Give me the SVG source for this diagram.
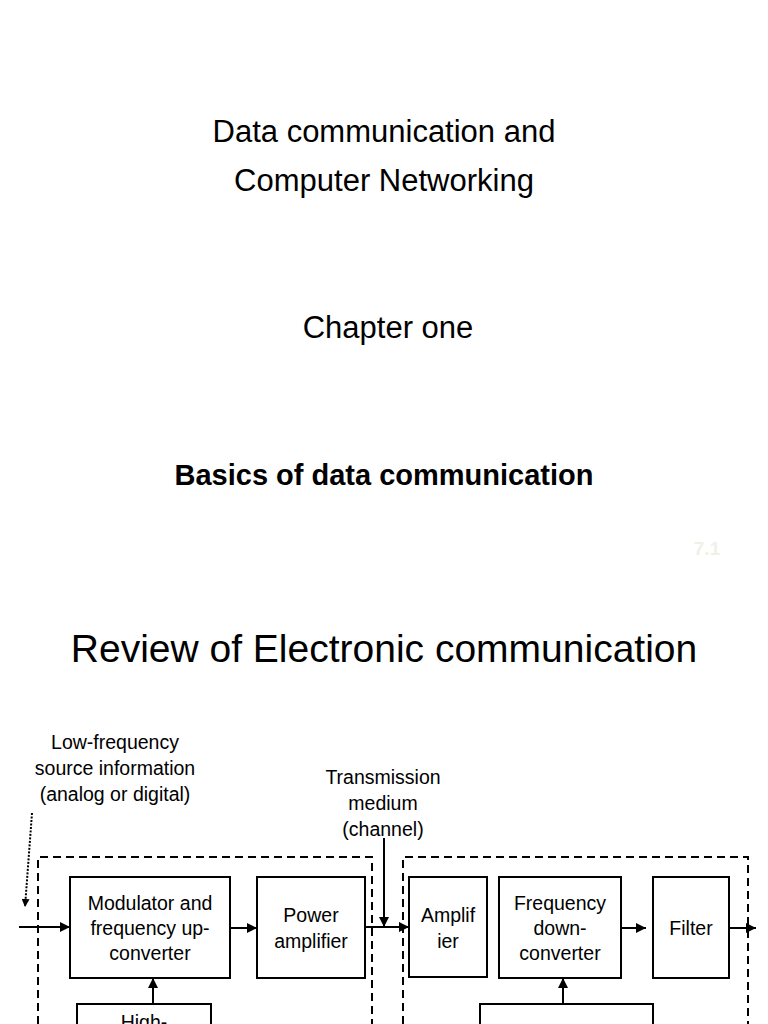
<svg xmlns="http://www.w3.org/2000/svg" width="768" height="1024" viewBox="0 0 768 1024">
<style>
text{font-family:"Liberation Sans",Arial,sans-serif;fill:#000;text-anchor:middle}
.t{font-size:31px}
.d{font-size:19.5px}
.box{fill:#fff;stroke:#000;stroke-width:2}
.dash{fill:none;stroke:#000;stroke-width:2;stroke-dasharray:8 5}
.ln{fill:none;stroke:#000;stroke-width:2}
</style>
<defs>
<marker id="ah" viewBox="0 0 10 10" refX="10" refY="5" markerWidth="5" markerHeight="5" orient="auto" markerUnits="strokeWidth"><path d="M0,0 L10,5 L0,10 z" fill="#000"/></marker>
<marker id="ahs" viewBox="0 0 10 10" refX="10" refY="5" markerWidth="4" markerHeight="4" orient="auto" markerUnits="strokeWidth"><path d="M0,0 L10,5 L0,10 z" fill="#000"/></marker>
</defs>
<rect width="768" height="1024" fill="#fff"/>
<g id="titles">
<text class="t" x="384" y="142">Data communication and</text>
<text class="t" x="384" y="191">Computer Networking</text>
<text class="t" x="388" y="338">Chapter one</text>
<text x="384" y="485" style="font-size:29px;font-weight:bold">Basics of data communication</text>
<text x="707" y="555" style="font-size:19px;font-weight:bold;fill:#f0f0e6">7.1</text>
<text x="384" y="662" style="font-size:39px">Review of Electronic communication</text>
</g>
<g id="labels">
<text class="d" x="115" y="749">Low-frequency</text>
<text class="d" x="115" y="775">source information</text>
<text class="d" x="115" y="801">(analog or digital)</text>
<text class="d" x="383" y="784">Transmission</text>
<text class="d" x="383" y="810">medium</text>
<text class="d" x="383" y="836">(channel)</text>
</g>
<g id="transmitter-frame"><path class="dash" d="M38,1024 V857 H372 V1024"/></g>
<g id="receiver-frame"><path class="dash" d="M403,1024 V857 H748 V1024"/></g>
<g id="modulator">
<rect class="box" x="70" y="877" width="160" height="101"/>
<text class="d" x="150" y="910">Modulator and</text>
<text class="d" x="150" y="935">frequency up-</text>
<text class="d" x="150" y="960">converter</text>
</g>
<g id="power-amplifier">
<rect class="box" x="257" y="877" width="108" height="101"/>
<text class="d" x="311" y="922">Power</text>
<text class="d" x="311" y="948">amplifier</text>
</g>
<g id="oscillator-tx">
<rect class="box" x="77" y="1004" width="134" height="40"/>
<text class="d" x="144" y="1029">High-</text>
</g>
<g id="amplifier">
<rect class="box" x="409" y="877" width="78" height="100"/>
<text class="d" x="448" y="922">Amplif</text>
<text class="d" x="448" y="948">ier</text>
</g>
<g id="downconverter">
<rect class="box" x="499" y="877" width="122" height="101"/>
<text class="d" x="560" y="910">Frequency</text>
<text class="d" x="560" y="935">down-</text>
<text class="d" x="560" y="960">converter</text>
</g>
<g id="filter">
<rect class="box" x="653" y="877" width="76" height="101"/>
<text class="d" x="691" y="935">Filter</text>
</g>
<g id="oscillator-rx">
<rect class="box" x="480" y="1004" width="173" height="40"/>
</g>
<g id="connectors">
<path d="M32,813 L25,907" fill="none" stroke="#000" stroke-width="2" stroke-dasharray="2 1.5" marker-end="url(#ahs)"/>
<line class="ln" x1="19" y1="927" x2="70" y2="927" marker-end="url(#ah)"/>
<line class="ln" x1="230" y1="928" x2="257" y2="928" marker-end="url(#ah)"/>
<line class="ln" x1="365" y1="927" x2="409" y2="927" marker-end="url(#ah)"/>
<line class="ln" x1="384" y1="838" x2="384" y2="927" marker-end="url(#ah)"/>
<line class="ln" x1="153" y1="1004" x2="153" y2="978" marker-end="url(#ah)"/>
<line class="ln" x1="621" y1="928" x2="646" y2="928" marker-end="url(#ah)"/>
<line class="ln" x1="729" y1="928" x2="756" y2="928" marker-end="url(#ah)"/>
<line class="ln" x1="563" y1="1004" x2="563" y2="978" marker-end="url(#ah)"/>
</g>
</svg>
